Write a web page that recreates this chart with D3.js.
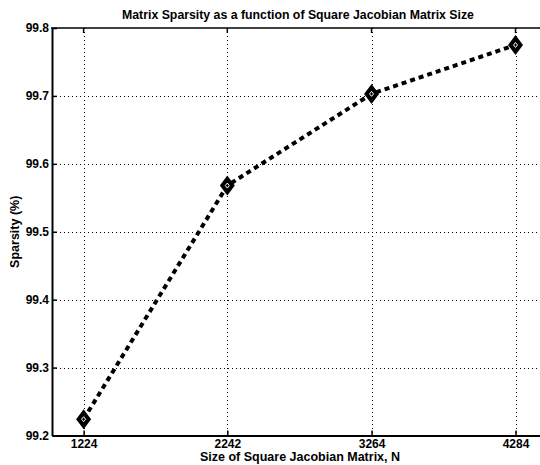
<!DOCTYPE html>
<html>
<head>
<meta charset="utf-8">
<script src="https://cdn.jsdelivr.net/npm/d3@7"></script>
<style>
  html, body { margin: 0; padding: 0; background: #fff; }
  svg { display: block; }
  text { font-family: "Liberation Sans", Arial, Helvetica, sans-serif; font-weight: bold; fill: #000; }
</style>
</head>
<body>
<svg id="chart" width="540" height="465"></svg>
<script>
// Matrix sizes (N) and the sparsity of the Jacobian at each size
const matrixSizes = [1224, 2242, 3264, 4284];
const sparsity = [99.224, 99.568, 99.703, 99.775];
const xTickValues = [1224, 2242, 3264, 4284];
const yTickValues = [99.2, 99.3, 99.4, 99.5, 99.6, 99.7, 99.8];

const titleText = "Matrix Sparsity as a function of Square Jacobian Matrix Size";
const xLabelText = "Size of Square Jacobian Matrix, N";
const yLabelText = "Sparsity (%)";

const svg = d3.select("#chart");
const plot = { left: 52, right: 546, top: 28, bottom: 435.5 };

const x = d3.scaleLinear().domain([1000, 4500]).range([plot.left, plot.right]);
const y = d3.scaleLinear().domain([99.2, 99.8]).range([plot.bottom, plot.top]);

// Dotted grid
const grid = svg.append("g")
  .attr("stroke", "#000").attr("stroke-width", 1)
  .attr("stroke-dasharray", "1,3").attr("fill", "none");
grid.selectAll("line.gx").data(xTickValues).join("line")
  .attr("x1", d => Math.round(x(d)) + 0.5).attr("x2", d => Math.round(x(d)) + 0.5)
  .attr("y1", plot.top).attr("y2", plot.bottom);
grid.selectAll("line.gy").data(yTickValues.slice(1, -1)).join("line")
  .attr("x1", plot.left).attr("x2", plot.right)
  .attr("y1", d => Math.round(y(d)) + 0.5).attr("y2", d => Math.round(y(d)) + 0.5);

// Axes with inward tick marks
const xAxis = d3.axisBottom(x).tickValues(xTickValues).tickFormat(d3.format("d"))
  .tickSizeInner(-5).tickSizeOuter(0).tickPadding(4);
const yAxis = d3.axisLeft(y).tickValues(yTickValues).tickFormat(d3.format(".1f"))
  .tickSizeInner(-5).tickSizeOuter(0).tickPadding(3);

const gx = svg.append("g").attr("transform", `translate(0,${plot.bottom})`).call(xAxis);
const gy = svg.append("g").attr("transform", `translate(${plot.left},0)`).call(yAxis);
[gx, gy].forEach(g => {
  g.select(".domain").attr("stroke", "#000").attr("stroke-width", 2);
  g.selectAll(".tick line").attr("stroke", "#000").attr("stroke-width", 1.5);
  g.selectAll(".tick text").style("font-size", "12px")
    .style("font-family", "'Liberation Sans', Arial, sans-serif").style("font-weight", "bold");
});

// Top frame line
svg.append("line").attr("x1", plot.left - 1).attr("x2", plot.right)
  .attr("y1", plot.top).attr("y2", plot.top)
  .attr("stroke", "#000").attr("stroke-width", 1.5);
// Top tick marks
svg.append("g").selectAll("line").data(xTickValues).join("line")
  .attr("x1", d => x(d)).attr("x2", d => x(d)).attr("y1", plot.top).attr("y2", plot.top + 5)
  .attr("stroke", "#000").attr("stroke-width", 1.5);

// Dotted data line
const line = d3.line().x((d, i) => x(matrixSizes[i])).y(d => y(d));
svg.append("path").datum(sparsity)
  .attr("d", line)
  .attr("fill", "none").attr("stroke", "#000").attr("stroke-width", 4)
  .attr("stroke-dasharray", "5,4");

// Diamond markers
const markers = svg.append("g").selectAll("g").data(sparsity).join("g")
  .attr("transform", (d, i) => `translate(${x(matrixSizes[i])},${y(d)})`);
markers.append("path").attr("d", "M0,-10L7.5,0L0,10L-7.5,0Z").attr("fill", "#000");
markers.append("path").attr("d", "M0,-2.5L2,0L0,2.5L-2,0Z")
  .attr("fill", "none").attr("stroke", "#fff").attr("stroke-width", 1);

// Title and axis labels
svg.append("text").attr("x", 298).attr("y", 19).attr("text-anchor", "middle")
  .style("font-size", "12.3px").text(titleText);
svg.append("text").attr("x", 300).attr("y", 461).attr("text-anchor", "middle")
  .style("font-size", "12.5px").text(xLabelText);
svg.append("text").attr("transform", `translate(19,${(plot.top + plot.bottom) / 2}) rotate(-90)`)
  .attr("text-anchor", "middle").style("font-size", "12.5px").text(yLabelText);
</script>
</body>
</html>
